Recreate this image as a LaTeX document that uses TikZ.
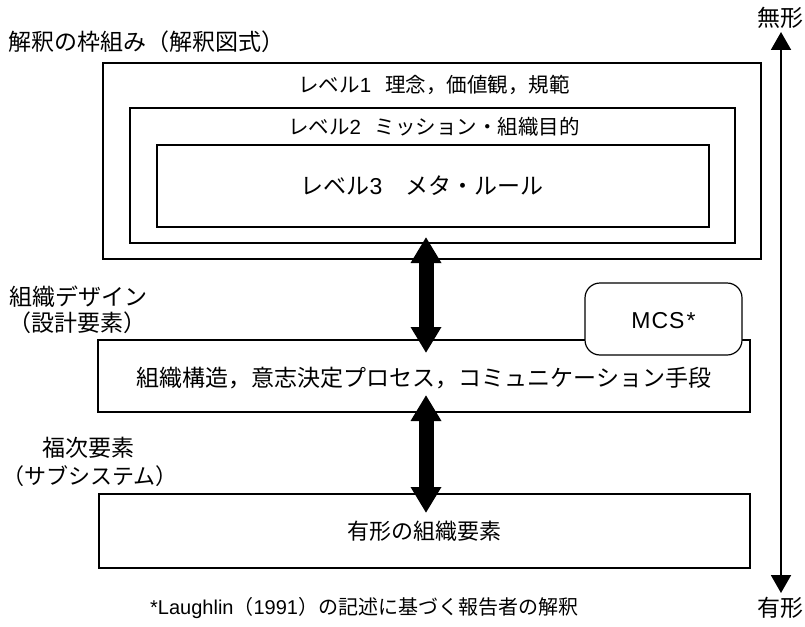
\documentclass[tikz,border=0pt]{standalone}
\usepackage{fontspec}
\setmainfont{Liberation Sans}
\newfontfamily\jp{Noto Sans CJK JP}
\newfontfamily\lat{Liberation Sans}
\usetikzlibrary{arrows.meta}
\begin{document}
\begin{tikzpicture}[x=1pt,y=-1pt,
  box/.style={draw, line width=1.2pt, inner sep=0pt},
  lbl/.style={inner sep=0pt, font=\jp\fontsize{23}{28}\selectfont},
  slbl/.style={inner sep=0pt, font=\jp\fontsize{20.5}{25}\selectfont},
  fat/.style={line width=15pt, {Triangle[width=29pt,length=26pt]}-{Triangle[width=29pt,length=26pt]}},
  thin/.style={line width=2pt, {Triangle[width=20pt,length=18pt]}-{Triangle[width=20pt,length=18pt]}},
]
\useasboundingbox (0,0) rectangle (805,626);
% level boxes
\node[box, minimum width=658pt, minimum height=196pt] (l1) at (432,161) {};
\node[box, minimum width=605pt, minimum height=135pt] (l2) at (432.5,175.5) {};
\node[box, minimum width=552pt, minimum height=82pt] (l3) at (433,186) {};
\node[slbl] (t1) at (434,85) {レベル{\lat 1}\hspace{14pt}理念，価値観，規範};
\node[slbl] (t2) at (434,127) {レベル{\lat 2}\hspace{14pt}ミッション・組織目的};
\node[lbl] (t3) at (422,186) {レベル{\lat 3}　メタ・ルール};
% design box
\node[box, minimum width=652pt, minimum height=72pt] (b2) at (424,376) {};
\node[box, fill=white, rounded corners=15pt, minimum width=157pt, minimum height=72pt] (mcs) at (663.5,319) {};
\node[lbl, font=\lat\fontsize{23}{28}\selectfont] (tm) at (663.5,321) {M\kern1pt C\kern1pt S\kern2pt*};
\node[lbl] (tb2) at (424,378) {組織構造，意志決定プロセス，コミュニケーション手段};
% subsystem box
\node[box, minimum width=651pt, minimum height=74pt] (b3) at (424.5,531) {};
\node[lbl, font=\jp\fontsize{22}{27}\selectfont] (tb3) at (424.5,531) {有形の組織要素};
% fat arrows
\coordinate (a1t) at (426,237);
\coordinate (a1b) at (426,353);
\coordinate (a2t) at (426,395);
\coordinate (a2b) at (426,513);
\draw[fat] (a1t) -- (a1b);
\draw[fat] (a2t) -- (a2b);
% right scale arrow
\node[lbl] (mu) at (780,18) {無形};
\node[lbl] (yu) at (780,608) {有形};
\coordinate (rt) at (781,32);
\coordinate (rb) at (781,593);
\draw[thin] (rt) -- (rb);
% left labels
\node[lbl, anchor=west] (frame) at (8,42) {解釈の枠組み（解釈図式）};
\node[lbl, anchor=west] (od1) at (9,297) {組織デザイン};
\node[lbl, anchor=west] (od2) at (8,323) {（設計要素）};
\node[lbl] (sb1) at (88,448) {福次要素};
\node[lbl, font=\jp\fontsize{22}{27}\selectfont] (sb2) at (90,476) {（サブシステム）};
% footnote
\node[lbl, font=\jp\fontsize{20}{25}\selectfont, anchor=west] (fn) at (150,608) {{\lat *Laughlin}（{\lat 1991}）の記述に基づく報告者の解釈};
\end{tikzpicture}
\end{document}
